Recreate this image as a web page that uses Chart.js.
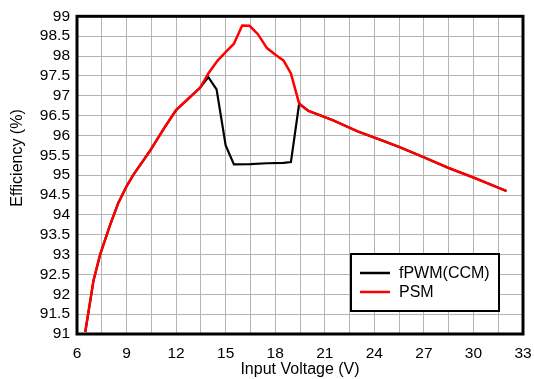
<!DOCTYPE html>
<html lang="en">
<head>
  <meta charset="UTF-8" />
  <title>Efficiency vs Input Voltage</title>
  <script src="https://cdn.jsdelivr.net/npm/chart.js"></script>
  <style>
    body { margin: 0; background: #fff; }
    canvas { display: block; }
  </style>
</head>
<body>
  <canvas id="eff" width="534" height="379"></canvas>

  <script>
    // PSM curve
    const psmVin = [6.5, 7.0, 7.4, 8.0, 8.5, 9.0, 9.4, 10.4, 11.3, 12.0, 12.8, 13.45, 13.95, 14.5, 15.0, 15.5, 16.0, 16.45, 16.95, 17.5, 18.05, 18.5, 18.95, 19.45, 20.0, 20.7, 21.5, 23.0, 24.5, 25.5, 27.0, 28.5, 30.0, 32.0];
    const psmEff = [91.05, 92.35, 93.0, 93.74, 94.3, 94.72, 95.0, 95.6, 96.2, 96.64, 96.95, 97.2, 97.56, 97.88, 98.1, 98.31, 98.77, 98.76, 98.55, 98.2, 98.02, 97.89, 97.56, 96.8, 96.62, 96.51, 96.38, 96.1, 95.87, 95.71, 95.45, 95.18, 94.94, 94.6];

    // fPWM(CCM) curve
    const pwmVin = [6.5, 7.0, 7.4, 8.0, 8.5, 9.0, 9.4, 10.4, 11.3, 12.0, 12.8, 13.45, 13.95, 14.45, 15.0, 15.5, 16.5, 17.5, 18.5, 18.95, 19.45, 20.0, 20.7, 21.5, 23.0, 24.5, 25.5, 27.0, 28.5, 30.0, 32.0];
    const pwmEff = [91.05, 92.35, 93.0, 93.74, 94.3, 94.72, 95.0, 95.6, 96.2, 96.64, 96.95, 97.2, 97.47, 97.16, 95.75, 95.27, 95.28, 95.3, 95.31, 95.33, 96.8, 96.62, 96.51, 96.38, 96.1, 95.87, 95.71, 95.45, 95.18, 94.94, 94.6];

    const legendItems = ['fPWM(CCM)', 'PSM'];
    const legendColors = ['#000000', '#ff0000'];
    const yTitle = 'Efficiency (%)';
    const FONT = '"Liberation Sans", Arial, sans-serif';

    const toPoints = (xs, ys) => xs.map((x, i) => ({ x: x, y: ys[i] }));

    // frame round the plot, y title and the legend box
    const framePlugin = {
      id: 'frame',
      afterDraw(chart) {
        const { ctx, chartArea: a } = chart;
        ctx.save();
        ctx.strokeStyle = '#000';
        ctx.lineWidth = 3;
        ctx.strokeRect(a.left, a.top, a.right - a.left, a.bottom - a.top);

        ctx.save();
        ctx.translate(18, 158);
        ctx.rotate(-Math.PI / 2);
        ctx.fillStyle = '#000';
        ctx.font = '16px ' + FONT;
        ctx.textAlign = 'center';
        ctx.textBaseline = 'middle';
        ctx.fillText(yTitle, 0, 0);
        ctx.restore();

        const bx = 351, by = 254, bw = 148, bh = 57;
        ctx.fillStyle = '#fff';
        ctx.fillRect(bx, by, bw, bh);
        ctx.lineWidth = 2;
        ctx.strokeRect(bx, by, bw, bh);
        ctx.font = '16px ' + FONT;
        ctx.textBaseline = 'middle';
        legendItems.forEach((name, i) => {
          const ly = 273 + i * 19;
          ctx.strokeStyle = legendColors[i];
          ctx.lineWidth = 2.5;
          ctx.beginPath();
          ctx.moveTo(360, ly);
          ctx.lineTo(390, ly);
          ctx.stroke();
          ctx.fillStyle = '#000';
          ctx.fillText(name, 399, ly + 1);
        });
        ctx.restore();
      }
    };

    const ctx = document.getElementById('eff').getContext('2d');
    new Chart(ctx, {
      type: 'line',
      data: {
        datasets: [
          {
            label: 'PSM',
            data: toPoints(psmVin, psmEff),
            borderColor: '#ff0000',
            borderWidth: 2.5,
            pointRadius: 0,
            tension: 0,
            order: 0
          },
          {
            label: 'fPWM(CCM)',
            data: toPoints(pwmVin, pwmEff),
            borderColor: '#000000',
            borderWidth: 2.2,
            pointRadius: 0,
            tension: 0,
            order: 1
          }
        ]
      },
      options: {
        responsive: false,
        animation: false,
        layout: { padding: { top: 16, right: 11, left: 0, bottom: 0 } },
        plugins: { legend: { display: false }, tooltip: { enabled: false } },
        scales: {
          x: {
            type: 'linear',
            min: 6, max: 33,
            afterFit(s) { s.height = 45; s.paddingRight = 0; s.paddingLeft = 0; },
            grid: { color: '#b4b4b4', lineWidth: 1, drawTicks: false },
            border: { display: false },
            ticks: {
              stepSize: 1.5,
              padding: 10,
              color: '#000',
              font: { size: 15.5, family: FONT },
              autoSkip: false,
              maxRotation: 0,
              callback: v => (v % 3 === 0 ? v : '')
            },
            title: {
              display: true,
              text: 'Input Voltage (V)',
              color: '#000',
              padding: { top: 0, bottom: 0 },
              font: { size: 16, family: FONT }
            }
          },
          y: {
            min: 91, max: 99,
            afterFit(s) { s.width = 77; },
            grid: { color: '#b4b4b4', lineWidth: 1, drawTicks: false },
            border: { display: false },
            ticks: {
              stepSize: 0.5,
              padding: 7,
              autoSkip: false,
              color: '#000',
              font: { size: 15.5, family: FONT },
              callback: v => String(Math.round(v * 10) / 10)
            }
          }
        }
      },
      plugins: [framePlugin]
    });
  </script>
</body>
</html>
